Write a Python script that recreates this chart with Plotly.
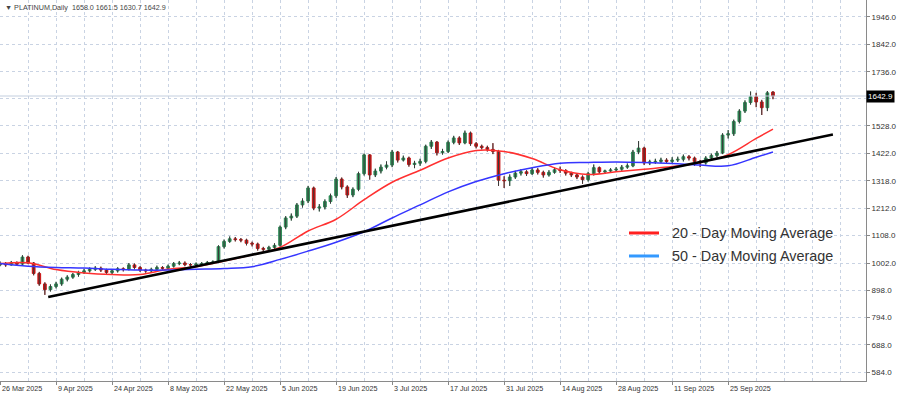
import plotly.graph_objects as go

# ---- data ----
opens = [995, 1000, 995, 1002, 998, 1025, 1002, 962, 922, 900,
         912, 922, 940, 948, 958, 966, 972, 978, 982, 975,
         966, 972, 980, 978, 995, 985, 975, 972, 978, 985,
         982, 990, 1000, 1002, 996, 995, 998, 1000, 1004, 1006,
         1065, 1085, 1095, 1092, 1090, 1078, 1075, 1058, 1055, 1062,
         1070, 1140, 1175, 1182, 1225, 1240, 1290, 1213, 1217, 1238,
         1260, 1324, 1294, 1263, 1285, 1345, 1417, 1340, 1355, 1370,
         1378, 1428, 1397, 1405, 1380, 1385, 1392, 1450, 1466, 1425,
         1430, 1465, 1482, 1463, 1501, 1460, 1450, 1445, 1438, 1430,
         1320, 1318, 1332, 1347, 1352, 1345, 1359, 1350, 1340, 1350,
         1360, 1357, 1347, 1340, 1332, 1322, 1345, 1368, 1352, 1355,
         1359, 1362, 1370, 1375, 1428, 1443, 1386, 1390, 1392, 1397,
         1392, 1397, 1400, 1410, 1405, 1392, 1386, 1405, 1415, 1424,
         1493, 1498, 1545, 1585, 1618, 1640, 1620, 1598, 1658]
highs = [1008, 1006, 1010, 1008, 1032, 1030, 1006, 968, 928, 920,
         930, 946, 955, 964, 972, 980, 985, 990, 988, 980,
         978, 986, 985, 1002, 1000, 990, 980, 984, 992, 990,
         996, 1006, 1010, 1008, 1002, 1004, 1006, 1010, 1012, 1070,
         1092, 1104, 1102, 1098, 1095, 1084, 1080, 1064, 1068, 1078,
         1146, 1182, 1192, 1232, 1250, 1298, 1295, 1228, 1246, 1268,
         1332, 1330, 1300, 1292, 1352, 1422, 1420, 1364, 1380, 1392,
         1436, 1432, 1414, 1410, 1394, 1402, 1456, 1474, 1470, 1440,
         1472, 1490, 1488, 1510, 1506, 1466, 1456, 1452, 1462, 1436,
         1335, 1342, 1356, 1362, 1358, 1368, 1366, 1356, 1358, 1368,
         1372, 1362, 1352, 1346, 1338, 1352, 1380, 1372, 1360, 1366,
         1370, 1378, 1384, 1436, 1470, 1448, 1398, 1402, 1406, 1404,
         1408, 1410, 1418, 1416, 1410, 1398, 1412, 1422, 1432, 1500,
         1512, 1552, 1592, 1626, 1660, 1655, 1628, 1662, 1661.5]
lows = [990, 988, 992, 992, 995, 998, 955, 915, 880, 893,
        905, 915, 932, 942, 950, 960, 966, 972, 968, 958,
        960, 966, 970, 974, 978, 968, 965, 966, 972, 975,
        976, 985, 994, 990, 988, 990, 992, 995, 998, 1002,
        1058, 1080, 1085, 1082, 1070, 1066, 1050, 1046, 1048, 1055,
        1065, 1132, 1165, 1175, 1215, 1232, 1205, 1200, 1208, 1230,
        1252, 1285, 1252, 1255, 1278, 1338, 1322, 1332, 1346, 1362,
        1370, 1388, 1392, 1372, 1366, 1375, 1385, 1440, 1415, 1418,
        1424, 1458, 1455, 1458, 1452, 1442, 1438, 1430, 1420, 1298,
        1290, 1298, 1325, 1338, 1336, 1340, 1342, 1330, 1334, 1345,
        1348, 1338, 1332, 1324, 1306, 1315, 1338, 1344, 1344, 1348,
        1352, 1356, 1364, 1370, 1420, 1378, 1378, 1382, 1385, 1384,
        1386, 1390, 1392, 1396, 1375, 1370, 1380, 1398, 1408, 1420,
        1480, 1490, 1538, 1578, 1610, 1600, 1570, 1585, 1630.7]
closes = [1000, 995, 1002, 998, 1025, 1002, 962, 922, 900, 912,
          922, 940, 948, 958, 966, 972, 978, 982, 975, 966,
          972, 980, 978, 995, 985, 975, 972, 978, 985, 982,
          990, 1000, 1002, 996, 995, 998, 1000, 1004, 1006, 1065,
          1085, 1095, 1092, 1090, 1078, 1075, 1058, 1055, 1062, 1070,
          1140, 1175, 1182, 1225, 1240, 1290, 1213, 1217, 1238, 1260,
          1324, 1294, 1263, 1285, 1345, 1417, 1340, 1355, 1370, 1378,
          1428, 1397, 1405, 1380, 1385, 1392, 1450, 1466, 1425, 1430,
          1465, 1482, 1463, 1501, 1460, 1450, 1445, 1438, 1430, 1320,
          1318, 1332, 1347, 1352, 1345, 1359, 1350, 1340, 1350, 1360,
          1357, 1347, 1340, 1332, 1322, 1345, 1368, 1352, 1355, 1359,
          1362, 1370, 1375, 1428, 1443, 1386, 1390, 1392, 1397, 1392,
          1397, 1400, 1410, 1405, 1392, 1386, 1405, 1415, 1424, 1493,
          1498, 1545, 1585, 1618, 1640, 1620, 1598, 1655, 1642.9]

ma_idx = [0, 5, 10, 15, 20, 25, 30, 35, 40, 45, 50, 55, 60, 65, 70,
          75, 80, 85, 90, 95, 100, 105, 110, 115, 120, 125, 130, 135, 138]
ma20 = [1000, 1003, 977, 964, 958, 958, 978, 988, 1010, 1034, 1062, 1125,
        1170, 1245, 1312, 1358, 1405, 1434, 1430, 1403, 1360, 1342, 1352,
        1362, 1372, 1388, 1418, 1480, 1516]
ma50 = [1000, 990, 985, 983, 978, 975, 975, 978, 981, 988, 1016, 1048,
        1082, 1122, 1175, 1225, 1275, 1315, 1345, 1368, 1385, 1388, 1390,
        1388, 1384, 1378, 1375, 1408, 1428]

trend_x = [8.6, 148.7]
trend_y = [872, 1495]

date_idx = [0, 10, 20, 30, 40, 50, 60, 70, 80, 90, 100, 110, 120, 130]
date_labels = ["26 Mar 2025", "9 Apr 2025", "24 Apr 2025", "8 May 2025",
               "22 May 2025", "5 Jun 2025", "19 Jun 2025", "3 Jul 2025",
               "17 Jul 2025", "31 Jul 2025", "14 Aug 2025", "28 Aug 2025",
               "11 Sep 2025", "25 Sep 2025"]
price_ticks = [584, 688, 794, 898, 1002, 1108, 1212, 1318, 1422, 1528,
               1632, 1736, 1842, 1946]
last_price = 1642.9
title_text = "\u25BC PLATINUM,Daily  1658.0 1661.5 1630.7 1642.9"
legend_labels = ["20 - Day Moving Average", "50 - Day Moving Average"]

# ---- figure ----
xs = list(range(len(closes)))
FONT = "Liberation Sans, Arial, sans-serif"
GRID = "#c9d3e3"

wick_x, wick_y = [], []
for i in xs:
    wick_x += [i, i, None]
    wick_y += [lows[i], highs[i], None]

fig = go.Figure()
fig.add_trace(go.Scatter(x=wick_x, y=wick_y, mode="lines",
                         line=dict(color="#3a3a3a", width=1),
                         hoverinfo="skip", showlegend=False))
fig.add_trace(go.Candlestick(
    x=xs, open=opens, high=highs, low=lows, close=closes,
    increasing=dict(line=dict(color="#2e8b57", width=1), fillcolor="#2e8b57"),
    decreasing=dict(line=dict(color="#c81414", width=1), fillcolor="#c81414"),
    whiskerwidth=0, showlegend=False))
fig.add_trace(go.Scatter(x=ma_idx, y=ma20, mode="lines", line_shape="spline",
                         line=dict(color="#ff3030", width=1.5), showlegend=False))
fig.add_trace(go.Scatter(x=ma_idx, y=ma50, mode="lines", line_shape="spline",
                         line=dict(color="#3535ff", width=1.5), showlegend=False))
fig.add_trace(go.Scatter(x=trend_x, y=trend_y, mode="lines",
                         line=dict(color="#000000", width=2.6), showlegend=False))

# current price line
fig.add_shape(type="line", xref="paper", x0=0, x1=1, yref="y",
              y0=last_price, y1=last_price, line=dict(color="#c3cede", width=1))

# legend (drawn manually)
leg_y = [0.3885, 0.3281]
leg_col = ["#ff2020", "#3399ff"]
for lbl, yy, cc in zip(legend_labels, leg_y, leg_col):
    fig.add_shape(type="line", xref="paper", yref="paper", x0=0.7263, x1=0.761,
                  y0=yy, y1=yy, line=dict(color=cc, width=3))
    fig.add_annotation(xref="paper", yref="paper", x=0.7737, y=yy, text=lbl,
                       showarrow=False, xanchor="left", yanchor="middle",
                       font=dict(family=FONT, size=14.4, color="#333333"))

# title
fig.add_annotation(xref="paper", yref="paper", x=0.0035, y=1, yshift=-1,
                   text=title_text, showarrow=False, xanchor="left", yanchor="top",
                   font=dict(family=FONT, size=7.2, color="#444444"))

# date labels (left-aligned at tick, MT style)
for xi, lbl in zip(date_idx, date_labels):
    fig.add_annotation(x=xi, xref="x", yref="paper", y=0, yshift=-1, xshift=0,
                       text=lbl, showarrow=False, xanchor="left", yanchor="top",
                       font=dict(family=FONT, size=7.2, color="#333333"))

# last-price tag
fig.add_annotation(xref="paper", x=1, xanchor="left", xshift=0, yref="y", y=last_price,
                   text="%.1f" % last_price, showarrow=False, bgcolor="#000000",
                   font=dict(family=FONT, size=8, color="#ffffff"),
                   borderpad=1)

tick_text = ["" if v == 1632 else "%.1f" % v for v in price_ticks]

fig.update_layout(
    width=900, height=396,
    margin=dict(l=0, r=34, t=0, b=15),
    paper_bgcolor="white", plot_bgcolor="white",
    showlegend=False,
    xaxis=dict(range=[-0.01, 154.61], rangeslider=dict(visible=False),
               tickvals=date_idx, showticklabels=False, ticks="outside",
               ticklen=3, tickcolor="#888888",
               showgrid=True, gridcolor=GRID, griddash="dot", gridwidth=1,
               minor=dict(dtick=5, tick0=0, showgrid=True, gridcolor=GRID,
                          griddash="dot", gridwidth=1),
               showline=True, linecolor="#8a8a8a", linewidth=1,
               zeroline=False, fixedrange=True),
    yaxis=dict(side="right", range=[549.5, 2011.2], tickvals=price_ticks,
               ticktext=tick_text,
               ticks="outside", ticklen=3, tickcolor="#888888",
               tickfont=dict(family=FONT, size=8, color="#333333"),
               showgrid=True, gridcolor=GRID, griddash="dot", gridwidth=1,
               showline=True, linecolor="#8a8a8a", linewidth=1,
               zeroline=False, automargin=False, fixedrange=True),
)

fig.write_html("out.html", config={"displayModeBar": False},
               post_script="document.body.style.margin='0';document.body.style.overflow='hidden';")
